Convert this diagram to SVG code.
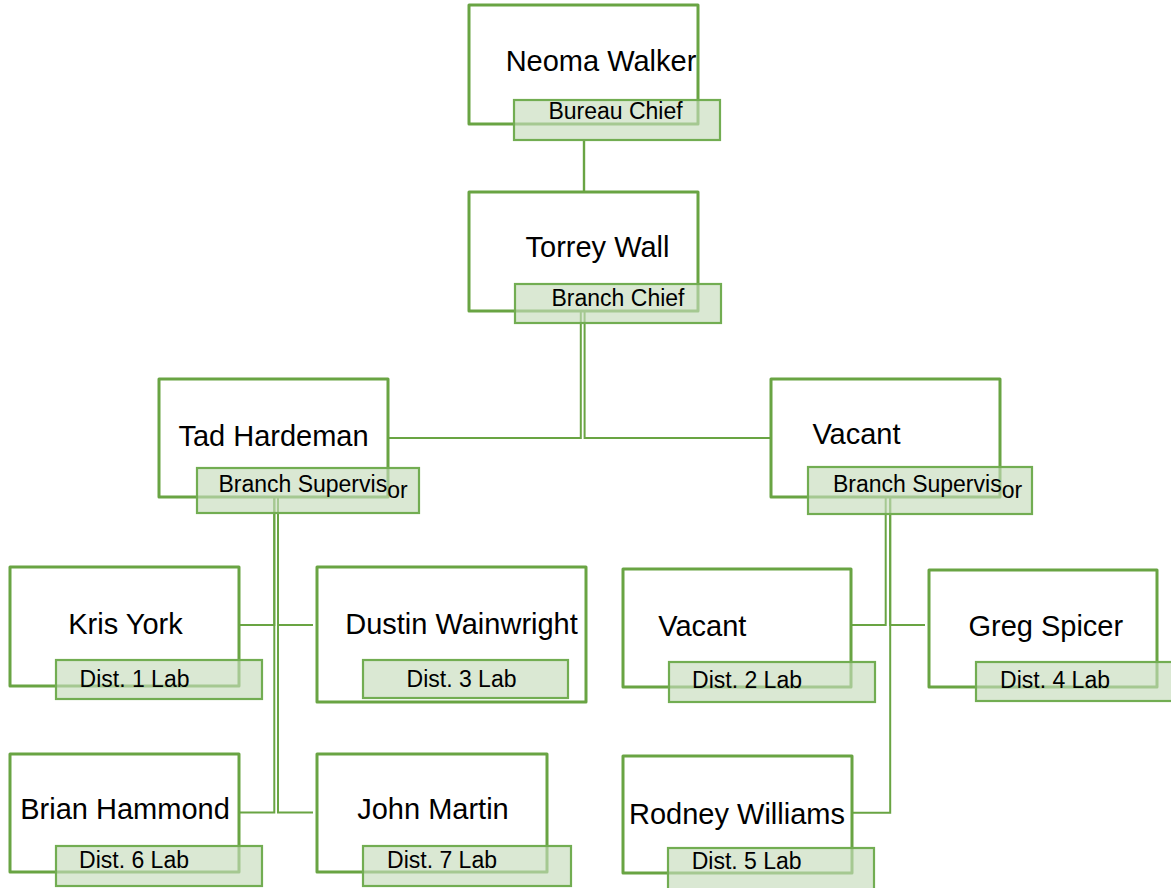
<svg xmlns="http://www.w3.org/2000/svg" width="1171" height="888" viewBox="0 0 1171 888">
<style>
.box{fill:#ffffff;stroke:#69a443;stroke-width:3;stroke-linejoin:round}
.lab{fill:#c6dcbb;fill-opacity:0.65;stroke:#72ad52;stroke-width:2.2}
.name{font-family:"Liberation Sans",Arial,sans-serif;font-size:29px;fill:#000;text-anchor:middle}
.title{font-family:"Liberation Sans",Arial,sans-serif;font-size:23px;fill:#000;text-anchor:middle}
.c{fill:none;stroke:#69a443;stroke-width:2.4}
.d{fill:none;stroke:#69a443;stroke-width:2}
</style>
<rect width="1171" height="888" fill="#ffffff"/>
<g id="connectors">
<path class="c" d="M584,140 V192"/>
<path class="d" d="M580.8,311 V438 H389"/>
<path class="d" d="M584.6,311 V438 H771"/>
<path class="d" d="M274.3,497 V625 H239"/>
<path class="d" d="M278,497 V625 H313"/>
<path class="d" d="M274.3,497 V812.5 H239"/>
<path class="d" d="M278,497 V812.5 H313"/>
<path class="d" d="M885.7,497 V625 H851"/>
<path class="d" d="M890.2,497 V625 H925"/>
<path class="d" d="M890.2,497 V812.7 H852"/>
</g>
<g id="neoma">
<rect class="box" x="469" y="5" width="229" height="119"/>
<rect class="lab" x="514" y="100" width="206" height="40"/>
<text class="name" x="601" y="71">Neoma Walker</text>
<text class="title" x="615.5" y="119">Bureau Chief</text>
</g>
<g id="torrey">
<rect class="box" x="469" y="192" width="229" height="119"/>
<rect class="lab" x="515" y="284" width="206" height="39"/>
<text class="name" x="597.5" y="257">Torrey Wall</text>
<text class="title" x="618" y="306">Branch Chief</text>
</g>
<g id="tad">
<rect class="box" x="159" y="379" width="229" height="118"/>
<rect class="lab" x="197" y="468" width="222" height="45"/>
<text class="name" x="273.5" y="446">Tad Hardeman</text>
<text class="title" x="313" y="492">Branch Supervis<tspan dy="6">or</tspan></text>
</g>
<g id="vacant-sup">
<rect class="box" x="771" y="379" width="229" height="118"/>
<rect class="lab" x="808" y="467" width="224" height="47"/>
<text class="name" x="856.5" y="444">Vacant</text>
<text class="title" x="927.5" y="492">Branch Supervis<tspan dy="6">or</tspan></text>
</g>
<g id="kris">
<rect class="box" x="10" y="567" width="229" height="119"/>
<rect class="lab" x="56" y="660" width="206" height="39"/>
<text class="name" x="125.5" y="634">Kris York</text>
<text class="title" x="134.5" y="687">Dist. 1 Lab</text>
</g>
<g id="dustin">
<rect class="box" x="317" y="567" width="269" height="135"/>
<rect class="lab" x="363" y="660" width="205" height="38"/>
<text class="name" x="461.5" y="634">Dustin Wainwright</text>
<text class="title" x="461.5" y="687">Dist. 3 Lab</text>
</g>
<g id="vacant-d2">
<rect class="box" x="623" y="569" width="228" height="118"/>
<rect class="lab" x="669" y="662" width="206" height="40"/>
<text class="name" x="702.3" y="636">Vacant</text>
<text class="title" x="747" y="688">Dist. 2 Lab</text>
</g>
<g id="greg">
<rect class="box" x="929" y="570" width="228" height="117"/>
<rect class="lab" x="976" y="662" width="206" height="39"/>
<text class="name" x="1045.8" y="636">Greg Spicer</text>
<text class="title" x="1055" y="688">Dist. 4 Lab</text>
</g>
<g id="brian">
<rect class="box" x="10" y="754" width="229" height="118"/>
<rect class="lab" x="56" y="846" width="206" height="40"/>
<text class="name" x="125" y="819">Brian Hammond</text>
<text class="title" x="134" y="868">Dist. 6 Lab</text>
</g>
<g id="john">
<rect class="box" x="317" y="754" width="230" height="118"/>
<rect class="lab" x="363" y="846" width="208" height="40"/>
<text class="name" x="433" y="819">John Martin</text>
<text class="title" x="442" y="868">Dist. 7 Lab</text>
</g>
<g id="rodney">
<rect class="box" x="623" y="756" width="229" height="117"/>
<rect class="lab" x="668" y="848" width="206" height="42"/>
<text class="name" x="737" y="824">Rodney Williams</text>
<text class="title" x="746.7" y="869">Dist. 5 Lab</text>
</g>
</svg>
